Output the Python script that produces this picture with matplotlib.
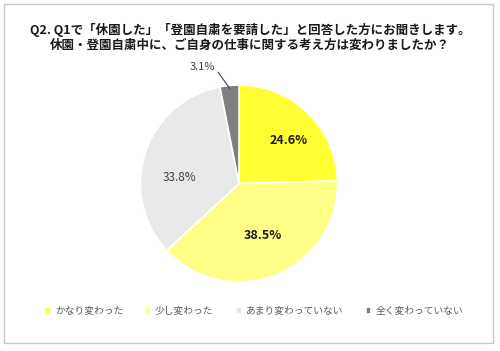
import matplotlib
matplotlib.use('Agg')
import matplotlib.pyplot as plt
from matplotlib.patches import Rectangle
import numpy as np

plt.rcParams['font.family'] = ['Noto Sans CJK JP', 'DejaVu Sans']

# datos
categorias = ['かなり変わった', '少し変わった', 'あまり変わっていない', '全く変わっていない']
valores = [24.6, 38.5, 33.8, 3.1]
colores = ['#FFFF33', '#FFFF88', '#E9E9E9', '#7F7F7F']
titulo = 'Q2. Q1で「休園した」「登園自粛を要請した」と回答した方にお聞きします。\n休園・登園自粛中に、ご自身の仕事に関する考え方は変わりましたか？'

W, H = 500, 351
fig = plt.figure(figsize=(W / 100, H / 100), dpi=100)

# marco
fig.patches.append(Rectangle((4 / W, 8 / H), 489 / W, 339 / H, transform=fig.transFigure,
                             fill=False, edgecolor='#C8C8C8', linewidth=1.0))

fig.text(0.5, 1 - 37 / H, titulo, ha='center', va='center', fontsize=9.0,
         fontweight='bold', color='#1A1A1A', linespacing=1.2)

# pastel
cx, cy, r = 239, 183.5, 98.5
ax = fig.add_axes([(cx - r) / W, (H - cy - r) / H, 2 * r / W, 2 * r / H])
wedges, texts, autotexts = ax.pie(valores, colors=colores, startangle=90, counterclock=False,
                                  autopct='%1.1f%%', pctdistance=0.62,
                                  wedgeprops=dict(edgecolor='white', linewidth=1.2),
                                  textprops=dict(fontsize=8.5))
ax.set_xlim(-1, 1)
ax.set_ylim(-1, 1)
ax.set_aspect('equal')

for i, t in enumerate(autotexts):
    if i < 2:
        t.set_fontweight('bold')
        t.set_color('#1A1A1A')
        t.set_fontsize(9)
    else:
        t.set_color('#404040')

# ajustes de posicion para etiquetas
autotexts[0].set_position((0.50, 0.44))
autotexts[1].set_position((0.24, -0.53))
autotexts[2].set_position((-0.60, 0.06))

# etiqueta externa para la porcion pequeña
autotexts[3].set_visible(False)
w = wedges[3]
ang = np.deg2rad((w.theta1 + w.theta2) / 2)
ax.annotate('%1.1f%%' % valores[3], xy=(0.97 * np.cos(ang), 0.97 * np.sin(ang)),
            xytext=(-0.37, 1.18), ha='center', va='center', fontsize=8, color='#404040',
            arrowprops=dict(arrowstyle='-', color='#404040', lw=0.8,
                            relpos=(1.0, 0.4), shrinkA=0, shrinkB=0),
            annotation_clip=False)

fig.legend(wedges, categorias, loc='center', bbox_to_anchor=(0.508, 1 - 311 / H), ncol=4,
           frameon=False, fontsize=7, handlelength=0.6, handleheight=0.6,
           handletextpad=0.4, columnspacing=2.3, labelcolor='#595959')

fig.savefig('out.png', dpi=100)
